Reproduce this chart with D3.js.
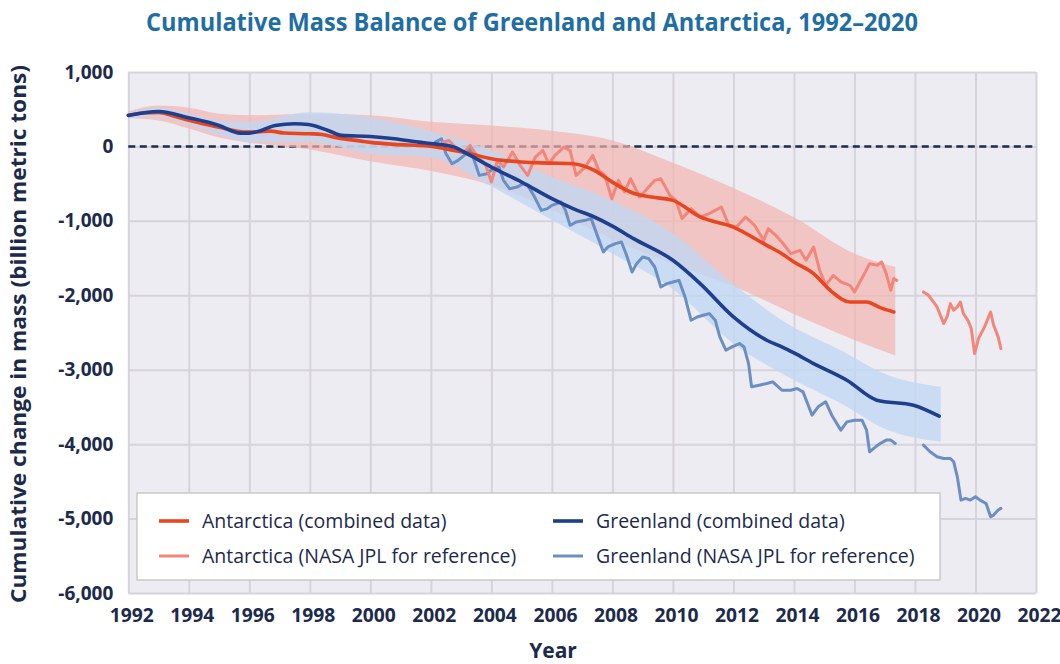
<!DOCTYPE html>
<html><head><meta charset="utf-8">
<script src="https://cdn.jsdelivr.net/npm/d3@7"></script>
<style>body{margin:0;background:#fff;} svg{display:block;}</style>
</head><body>
<svg id="chart" width="1060" height="664"></svg>
<script>
// ---------- DATA ----------
const xTickValues = [1992,1994,1996,1998,2000,2002,2004,2006,2008,2010,2012,2014,2016,2018,2020,2022];
const yTickValues = [1000,0,-1000,-2000,-3000,-4000,-5000,-6000];

const antarcticaCombinedYears = [1992.0,1992.5,1993.0,1993.5,1994.0,1994.5,1995.0,1995.6,1996.0,1996.7,1997.15,1998.0,1998.4,1998.8,1999.7,2000.0,2000.8,2001.9,2002.77,2003.3,2004.0,2005.0,2006.0,2006.7,2007.4,2008.0,2008.7,2009.3,2010.0,2010.9,2012.0,2013.1,2013.6,2014.0,2014.65,2015.2,2015.85,2016.4,2016.85,2017.3];
const antarcticaCombined = [420,450,456,410,350,300,258,205,193,205,180,170,160,125,71,54,27,5,-54,-98,-165,-210,-224,-233,-322,-480,-630,-680,-725,-948,-1083,-1329,-1441,-1553,-1709,-1933,-2090,-2090,-2165,-2224];

const greenlandCombinedYears = [1992.0,1993.0,1994.0,1995.0,1995.7,1996.0,1996.4,1996.85,1997.5,1997.95,1998.6,1999.05,2000.0,2000.8,2001.6,2002.0,2002.77,2003.3,2004.0,2005.0,2006.0,2006.7,2007.4,2008.0,2008.7,2010.0,2010.9,2012.0,2013.1,2013.6,2014.0,2014.65,2015.75,2016.74,2017.95,2018.8];
const greenlandCombined = [416,470,385,282,179,179,215,282,304,295,215,148,134,103,58,40,-9,-120,-277,-479,-702,-836,-948,-1070,-1239,-1530,-1843,-2291,-2604,-2694,-2775,-2917,-3141,-3409,-3477,-3624];

const antarcticaBandYears = [1992,1993,1994,1995,1996,1998,2000,2002,2004,2006,2008,2010,2012,2014,2016,2017.35];
const antarcticaBandUpper = [470,550,520,440,420,440,420,330,280,210,80,-220,-560,-950,-1440,-1620];
const antarcticaBandLower = [380,350,240,120,50,-40,-200,-330,-520,-850,-1250,-1580,-1880,-2250,-2600,-2810];

const greenlandBandYears = [1992,1993,1994,1995,1996,1998,2000,2002,2004,2006,2008,2010,2012,2013.6,2015.75,2016.85,2018.85];
const greenlandBandUpper = [460,520,440,350,330,460,390,200,-50,-410,-730,-1170,-1850,-2336,-2783,-3030,-3230];
const greenlandBandLower = [380,400,290,160,60,60,-100,-150,-540,-990,-1440,-1920,-2650,-3051,-3499,-3767,-3969];

const antarcticaJplYears1 = [2002.4,2002.6,2002.8,2003.1,2003.3,2003.55,2003.8,2004.0,2004.2,2004.4,2004.7,2004.95,2005.2,2005.45,2005.7,2005.9,2006.1,2006.4,2006.6,2006.8,2007.1,2007.35,2007.55,2007.75,2007.98,2008.2,2008.4,2008.6,2008.9,2009.4,2009.6,2009.9,2010.1,2010.3,2010.6,2010.9,2011.2,2011.6,2011.85,2012.1,2012.4,2012.7,2013.0,2013.15,2013.4,2013.6,2013.9,2014.2,2014.4,2014.65,2014.85,2015.05,2015.3,2015.55,2015.7,2015.85,2016.0,2016.3,2016.5,2016.75,2016.9,2017.05,2017.2,2017.3,2017.4];
const antarcticaJpl1 = [58,80,-9,-76,13,-143,-233,-479,-188,-277,-76,-255,-389,-143,-54,-233,-121,-9,-54,-389,-277,-121,-322,-389,-702,-456,-613,-434,-680,-456,-434,-658,-725,-970,-836,-948,-903,-814,-1060,-1083,-948,-1060,-1262,-1105,-1195,-1284,-1441,-1396,-1530,-1351,-1664,-1866,-1732,-1821,-1843,-1866,-1955,-1732,-1575,-1597,-1553,-1709,-1933,-1776,-1799];
const antarcticaJplYears2 = [2018.28,2018.45,2018.73,2018.95,2019.06,2019.17,2019.28,2019.4,2019.5,2019.6,2019.75,2019.86,2019.97,2020.1,2020.3,2020.5,2020.6,2020.75,2020.84];
const antarcticaJpl2 = [-1955,-2000,-2157,-2380,-2291,-2112,-2201,-2157,-2090,-2246,-2336,-2447,-2783,-2581,-2425,-2224,-2403,-2559,-2716];

const greenlandJplYears1 = [2002.15,2002.35,2002.5,2002.7,2002.9,2003.1,2003.3,2003.45,2003.6,2003.85,2004.05,2004.25,2004.4,2004.6,2004.85,2005.05,2005.2,2005.4,2005.65,2005.85,2006.0,2006.3,2006.45,2006.6,2006.8,2007.1,2007.3,2007.5,2007.7,2007.85,2008.1,2008.3,2008.45,2008.65,2008.8,2009.0,2009.2,2009.4,2009.6,2009.8,2010.0,2010.2,2010.4,2010.6,2010.8,2011.0,2011.2,2011.4,2011.55,2011.75,2011.95,2012.2,2012.35,2012.5,2012.6,2012.85,2013.1,2013.3,2013.6,2013.9,2014.1,2014.3,2014.6,2014.8,2015.05,2015.25,2015.55,2015.75,2016.0,2016.25,2016.4,2016.5,2016.7,2016.85,2017.05,2017.2,2017.35];
const greenlandJpl1 = [58,103,-98,-233,-188,-121,-31,-210,-389,-367,-300,-277,-456,-568,-546,-501,-523,-658,-859,-836,-792,-747,-859,-1060,-1016,-993,-970,-1195,-1418,-1351,-1306,-1284,-1441,-1687,-1575,-1485,-1508,-1620,-1888,-1843,-1821,-1799,-2022,-2336,-2291,-2268,-2246,-2336,-2559,-2738,-2694,-2648,-2694,-2917,-3230,-3208,-3185,-3163,-3275,-3275,-3252,-3298,-3611,-3499,-3432,-3611,-3812,-3701,-3678,-3678,-3812,-4103,-4036,-3991,-3946,-3946,-3991];
const greenlandJplYears2 = [2018.28,2018.5,2018.73,2018.95,2019.17,2019.28,2019.4,2019.52,2019.67,2019.83,2020.0,2020.15,2020.35,2020.5,2020.6,2020.75,2020.84];
const greenlandJpl2 = [-4013,-4103,-4170,-4192,-4192,-4237,-4439,-4752,-4729,-4752,-4707,-4752,-4797,-4976,-4953,-4886,-4863];

const legendLabels = ["Antarctica (combined data)","Greenland (combined data)","Antarctica (NASA JPL for reference)","Greenland (NASA JPL for reference)"];

// ---------- STYLE / LAYOUT ----------
const C = {
  title:"#1f6ea3", ink:"#1c2a4c", plotBg:"#eeecf3", grid:"#d6d4da",
  antC:"#e9461f", antJ:"#f2867a", antBand:"#f2b5ae",
  grnC:"#1d3f8e", grnJ:"#6b8fc3", grnBand:"#c0d7f2"
};
const L = {left:128.3, right:1036, top:72, bottom:593};
const FONT = "'Open Sans', 'Noto Sans', sans-serif";

const svg = d3.select("#chart");
const x = d3.scaleLinear().domain([1992,2022]).range([L.left,L.right]);
const y = d3.scaleLinear().domain([-6000,1000]).range([L.bottom,L.top]);

const zip = (xs, vs) => xs.map((t,i)=>[t, vs[i]]);
const band = (xs, up, lo) => xs.map((t,i)=>[t, up[i], lo[i]]);

// title
svg.append("text").attr("x",532).attr("y",31).attr("text-anchor","middle")
  .attr("font-family",FONT).attr("font-weight",700).attr("font-size",25)
  .attr("fill",C.title).attr("textLength",772).attr("lengthAdjust","spacingAndGlyphs")
  .text("Cumulative Mass Balance of Greenland and Antarctica, 1992–2020");

// plot background
svg.append("rect").attr("x",L.left).attr("y",L.top)
  .attr("width",L.right-L.left).attr("height",L.bottom-L.top).attr("fill",C.plotBg);

// grid
const gx = svg.append("g").attr("transform",`translate(0,${L.bottom})`)
  .call(d3.axisBottom(x).tickValues(xTickValues).tickSize(-(L.bottom-L.top)).tickFormat(""));
const gy = svg.append("g").attr("transform",`translate(${L.left},0)`)
  .call(d3.axisLeft(y).tickValues(yTickValues).tickSize(-(L.right-L.left)).tickFormat(""));
[gx,gy].forEach(g=>{ g.select(".domain").remove(); g.selectAll("line").attr("stroke",C.grid).attr("stroke-width",2); });

// zero line
svg.append("line").attr("x1",x(1992)).attr("x2",x(2022)).attr("y1",y(0)).attr("y2",y(0))
  .attr("stroke",C.ink).attr("stroke-width",2.5).attr("stroke-dasharray","7,4.5");

// bands
const area = d3.area().x(d=>x(d[0])).y0(d=>y(d[2])).y1(d=>y(d[1])).curve(d3.curveMonotoneX);
svg.append("path").datum(band(antarcticaBandYears,antarcticaBandUpper,antarcticaBandLower))
  .attr("d",area).attr("fill",C.antBand).attr("fill-opacity",0.7);
svg.append("path").datum(band(greenlandBandYears,greenlandBandUpper,greenlandBandLower))
  .attr("d",area).attr("fill",C.grnBand).attr("fill-opacity",0.78);

// lines
const line = d3.line().x(d=>x(d[0])).y(d=>y(d[1]));
const smooth = d3.line().x(d=>x(d[0])).y(d=>y(d[1])).curve(d3.curveMonotoneX);
function draw(data, color, w, gen){
  svg.append("path").datum(data).attr("d",gen).attr("fill","none")
    .attr("stroke",color).attr("stroke-width",w).attr("stroke-linejoin","round").attr("stroke-linecap","round");
}
draw(zip(greenlandJplYears1,greenlandJpl1), C.grnJ, 3, line);
draw(zip(greenlandJplYears2,greenlandJpl2), C.grnJ, 3, line);
draw(zip(antarcticaJplYears1,antarcticaJpl1), C.antJ, 3, line);
draw(zip(antarcticaJplYears2,antarcticaJpl2), C.antJ, 3, line);
draw(zip(antarcticaCombinedYears,antarcticaCombined), C.antC, 3.6, smooth);
draw(zip(greenlandCombinedYears,greenlandCombined), C.grnC, 3.6, smooth);

// axes labels
const fmt = d => d3.format(",")(d).replace("−","-");
const ay = svg.append("g").attr("transform",`translate(${L.left},0)`)
  .call(d3.axisLeft(y).tickValues(yTickValues).tickSize(0).tickPadding(15).tickFormat(fmt));
const ax = svg.append("g").attr("transform",`translate(0,${L.bottom})`)
  .call(d3.axisBottom(x).tickValues(xTickValues).tickSize(0).tickPadding(16).tickFormat(d3.format("d")));
[ax,ay].forEach(g=>{ g.select(".domain").remove();
  g.selectAll("text").attr("font-family",FONT).attr("font-weight",700).attr("font-size",19).attr("fill",C.ink); });
ax.selectAll("text").attr("textLength",44).attr("lengthAdjust","spacingAndGlyphs").attr("dx",3);

svg.append("text").attr("transform","translate(26,334) rotate(-90)").attr("text-anchor","middle")
  .attr("font-family",FONT).attr("font-weight",700).attr("font-size",22).attr("fill",C.ink)
  .attr("textLength",538).attr("lengthAdjust","spacingAndGlyphs")
  .text("Cumulative change in mass (billion metric tons)");
svg.append("text").attr("x",553).attr("y",658).attr("text-anchor","middle")
  .attr("font-family",FONT).attr("font-weight",700).attr("font-size",21).attr("fill",C.ink).text("Year");

// legend
const lg = svg.append("g");
lg.append("rect").attr("x",137).attr("y",493).attr("width",803).attr("height",87)
  .attr("fill","#fff").attr("stroke","#c9c8cc").attr("stroke-width",1.5);
const items = [
  {label:legendLabels[0], color:C.antC, col:0, row:0, w:3.6},
  {label:legendLabels[1], color:C.grnC, col:1, row:0, w:3.6},
  {label:legendLabels[2], color:C.antJ, col:0, row:1, w:3},
  {label:legendLabels[3], color:C.grnJ, col:1, row:1, w:3}
];
const colX = [159, 553], rowY = [521, 556];
items.forEach(it=>{
  const gx0 = colX[it.col], gy0 = rowY[it.row];
  lg.append("line").attr("x1",gx0).attr("x2",gx0+30).attr("y1",gy0).attr("y2",gy0)
    .attr("stroke",it.color).attr("stroke-width",it.w);
  lg.append("text").attr("x",gx0+43).attr("y",gy0).attr("dy","0.36em")
    .attr("font-family",FONT).attr("font-size",19.5).attr("fill",C.ink).text(it.label);
});
</script>
</body></html>
